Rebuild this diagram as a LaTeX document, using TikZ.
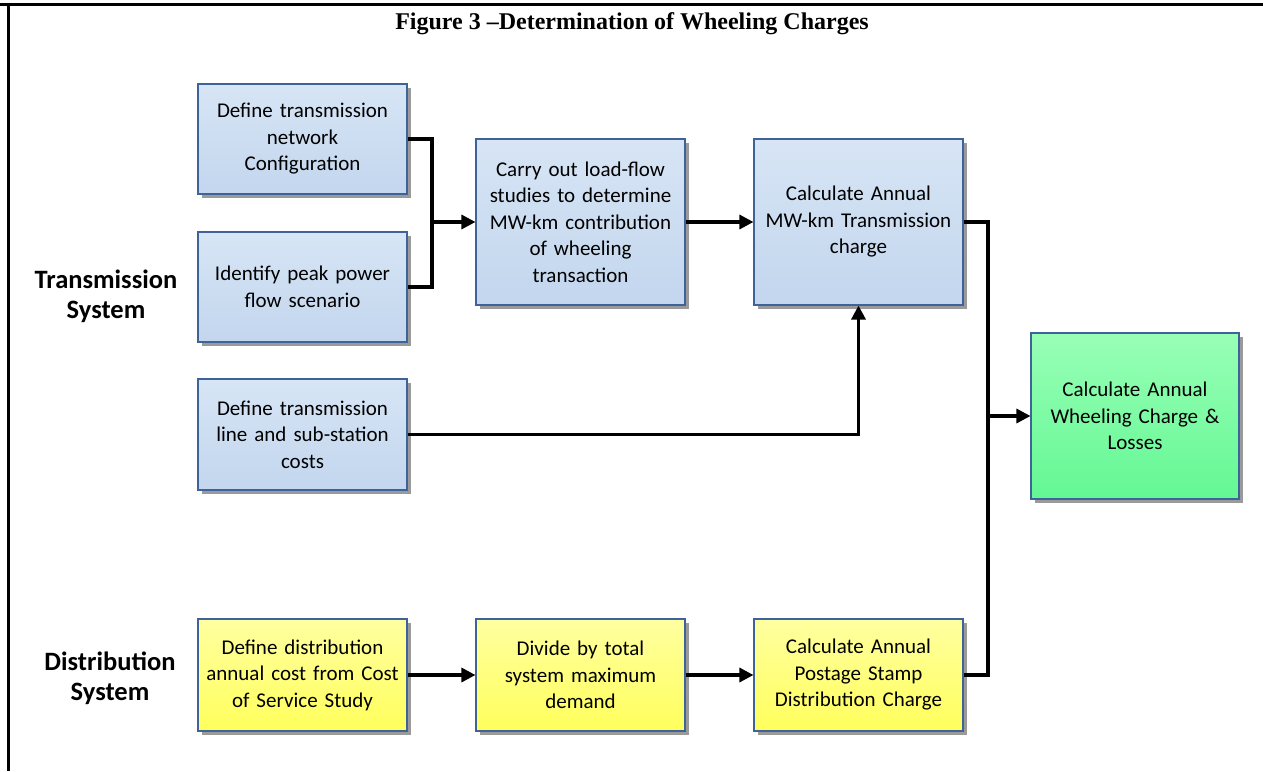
\documentclass[tikz,border=0pt]{standalone}
\usepackage{fontspec}
\setmainfont{Liberation Serif}
\newfontfamily\calibri{Carlito}
\usetikzlibrary{arrows.meta,shadows}
\definecolor{boxborder}{HTML}{3D6399}
\definecolor{blueTop}{HTML}{D7E5F5}
\definecolor{blueBot}{HTML}{C3D6EE}
\definecolor{greenTop}{HTML}{98FFB6}
\definecolor{greenBot}{HTML}{64F794}
\definecolor{yellowTop}{HTML}{FFFFA0}
\definecolor{yellowBot}{HTML}{FFFF5C}
\definecolor{shadowgray}{HTML}{9A9A9A}
\tikzset{
  flowbox/.style={draw=boxborder, line width=1.1pt, minimum width=209pt,
    text width=200pt, align=center, inner sep=0pt,
    font=\calibri\fontsize{21}{26.5}\selectfont,
    drop shadow={shadow xshift=3.5pt, shadow yshift=-3.5pt, fill=shadowgray, opacity=1}},
  bluebox/.style={flowbox, top color=blueTop, bottom color=blueBot},
  greenbox/.style={flowbox, top color=greenTop, bottom color=greenBot},
  yellowbox/.style={flowbox, top color=yellowTop, bottom color=yellowBot},
  syslabel/.style={align=center, font=\calibri\bfseries\fontsize{26.5}{30}\selectfont},
  conn/.style={line width=3.2pt, line join=miter},
  arr/.style={conn, -{Triangle[length=14pt,width=14pt]}},
}
\begin{document}
\begin{tikzpicture}[x=1pt,y=-1pt]
\useasboundingbox (0,0) rectangle (1263,771);
% page frame
\draw[line width=3.5pt] (0,4.5) -- (1263,4.5);
\draw[line width=3pt] (8,3) -- (8,771);
% title
\node[anchor=base, font=\bfseries\fontsize{24}{28}\selectfont] (title) at (632,29) {Figure 3 \textendash Determination of Wheeling Charges};
% labels
\node[syslabel] (trans) at (106,296) {Transmission\\System};
\node[syslabel] (dist) at (110,678) {Distribution\\System};
% transmission boxes
\node[bluebox, minimum height=110pt] (A) at (302.5,139) {Define transmission\\network\\Configuration};
\node[bluebox, minimum height=110pt] (B) at (302.5,287) {Identify peak power\\flow scenario};
\node[bluebox, minimum height=111pt] (F) at (302.5,434.5) {Define transmission\\line and sub-station\\costs};
\node[bluebox, minimum height=166pt] (C) at (580.5,222) {Carry out load-flow\\studies to determine\\MW-km contribution\\of wheeling\\transaction};
\node[bluebox, minimum height=166pt] (D) at (858.5,222) {Calculate Annual\\MW-km Transmission\\charge};
\node[greenbox, minimum width=208pt, minimum height=166pt] (E) at (1135,416) {Calculate Annual\\Wheeling Charge \&\\Losses};
% distribution boxes
\node[yellowbox, minimum height=112pt] (Y1) at (302.5,675) {Define distribution\\annual cost from Cost\\of Service Study};
\node[yellowbox, minimum height=112pt] (Y2) at (580.5,675) {Divide by total\\system maximum\\demand};
\node[yellowbox, minimum height=112pt] (Y3) at (858.5,675) {Calculate Annual\\Postage Stamp\\Distribution Charge};
% junction points
\coordinate (j1) at (432,222);
\coordinate (bus) at (988,416);
% connectors
\draw[conn] (A.east) -- (A.east -| j1) -- (B.east -| j1) -- (B.east);
\draw[arr] (j1) -- (C.west);
\draw[arr] (C.east) -- (D.west);
\draw[arr] (F.east) -| (D.south);
\draw[conn] (D.east) -- (D.east -| bus) -- (Y3.east -| bus) -- (Y3.east);
\draw[arr] (bus) -- (E.west);
\draw[arr] (Y1.east) -- (Y2.west);
\draw[arr] (Y2.east) -- (Y3.west);
\end{tikzpicture}
\end{document}
